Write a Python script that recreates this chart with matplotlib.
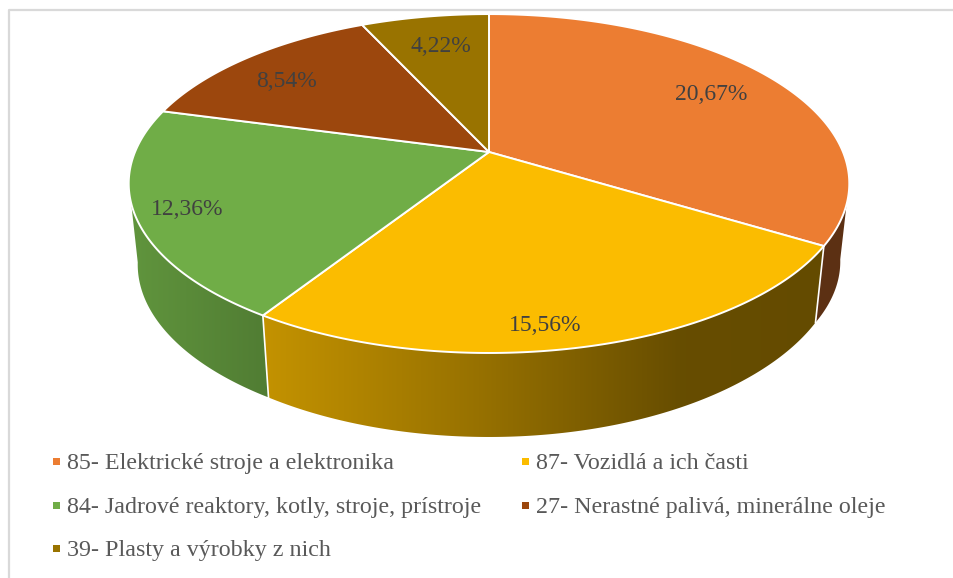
import numpy as np
import matplotlib
matplotlib.use('Agg')
import matplotlib.pyplot as plt
from matplotlib.patches import Polygon, Rectangle

plt.rcParams['font.family'] = ['Liberation Serif', 'DejaVu Serif']

labels = ['85- Elektrické stroje a elektronika', '87- Vozidlá a ich časti',
          '84- Jadrové reaktory, kotly, stroje, prístroje', '27- Nerastné palivá, minerálne oleje',
          '39- Plasty a výrobky z nich']
values = [20.67, 15.56, 12.36, 8.54, 4.22]
value_labels = ['20,67%', '15,56%', '12,36%', '8,54%', '4,22%']
colors = ['#EC7D32', '#FBBC00', '#70AD47', '#9C470D', '#997300']

# perspektiva kolaca, vsetko v pixeloch obrazka
cx, cy = 489, 152
a, b, k = 354, 163.6, 0.186
shrink = 0.975


def project(ang):
    # ang v stupnoch v smere hodin od 12:00
    t = np.radians(ang)
    x, y = np.sin(t), np.cos(t)
    w = 1 + k * y
    return cx + a * x / w, cy - b * y / w


def bottom(xs, ys):
    # spodna hrana steny, vpravo je stena o nieco nizsia
    d_left = np.interp(ys, [183, 315, 353], [81, 82, 84])
    d_right = np.interp(ys, [183, 246, 300, 353], [78, 76.5, 80, 84])
    d = np.where(xs < cx, d_left, d_right)
    return cx + (xs - cx) * shrink, ys + d


fig = plt.figure(figsize=(9.54, 5.78), dpi=100)
ax = fig.add_axes([0, 0, 1, 1])

# ramik
ax.plot([9.5, 9.5, 954], [578, 10, 10], color='#D9D9D9', lw=1.6)

total = sum(values)
starts = np.cumsum([0] + values[:-1]) / total * 360
ends = np.cumsum(values) / total * 360

# tmavnutie steny podla x, pre oranzovu, zltu a zelenu cast
side_shade = {
    0: ([800, 850], [0.39, 0.39]),
    1: ([262, 480, 680, 820], [0.78, 0.60, 0.41, 0.40]),
    2: ([130, 268], [0.86, 0.72]),
}

# bocna stena
for i in side_shade:
    angs = np.linspace(max(starts[i], 100), min(ends[i], 260), 200)
    xs, ys = project(angs)
    xb, yb = bottom(xs, ys)
    outline = np.r_[np.c_[xs, ys], np.c_[xb, yb][::-1]]
    poly = Polygon(outline, closed=True, fc='none', ec='none', transform=ax.transData)
    ax.add_patch(poly)
    x0, x1 = outline[:, 0].min(), outline[:, 0].max()
    y0, y1 = outline[:, 1].min(), outline[:, 1].max()
    grid = np.linspace(x0, x1, 400)
    f = np.interp(grid, *side_shade[i])
    img = np.outer(f, matplotlib.colors.to_rgb(colors[i]))[np.newaxis, :, :]
    im = ax.imshow(img, extent=(x0, x1, y1, y0), aspect='auto', interpolation='bilinear')
    im.set_clip_path(poly)

# biele hrany na stene
for ang in [ends[0], ends[1]]:
    x0, y0 = project(np.array([ang]))
    x1, y1 = bottom(x0, y0)
    ax.plot([x0[0], x1[0]], [y0[0], y1[0]], color='white', lw=1.2)

# vrch
for i in range(len(values)):
    angs = np.linspace(starts[i], ends[i], 200)
    xs, ys = project(angs)
    pts = [(cx, cy)] + list(zip(xs, ys))
    ax.add_patch(Polygon(pts, closed=True, fc=colors[i], ec='white', lw=1.4, joinstyle='round'))

# popisky hodnot
label_pos = [(711, 92), (545, 323), (187, 207), (287, 79), (441, 44)]
for txt, (lx, ly) in zip(value_labels, label_pos):
    ax.text(lx, ly, txt, fontsize=17, color='#404040', ha='center', va='center_baseline')

# legenda
legend_pos = [(53, 461), (522, 461), (53, 505), (522, 505), (53, 548)]
for name, c, (lx, ly) in zip(labels, colors, legend_pos):
    ax.add_patch(Rectangle((lx, ly - 3.5), 7, 7, fc=c, ec='none'))
    ax.text(lx + 14.5, ly, name, fontsize=17.25, color='#595959', va='center_baseline', ha='left')

ax.set_xlim(0, 954)
ax.set_ylim(578, 0)
ax.axis('off')

fig.savefig('out.png', dpi=100)
